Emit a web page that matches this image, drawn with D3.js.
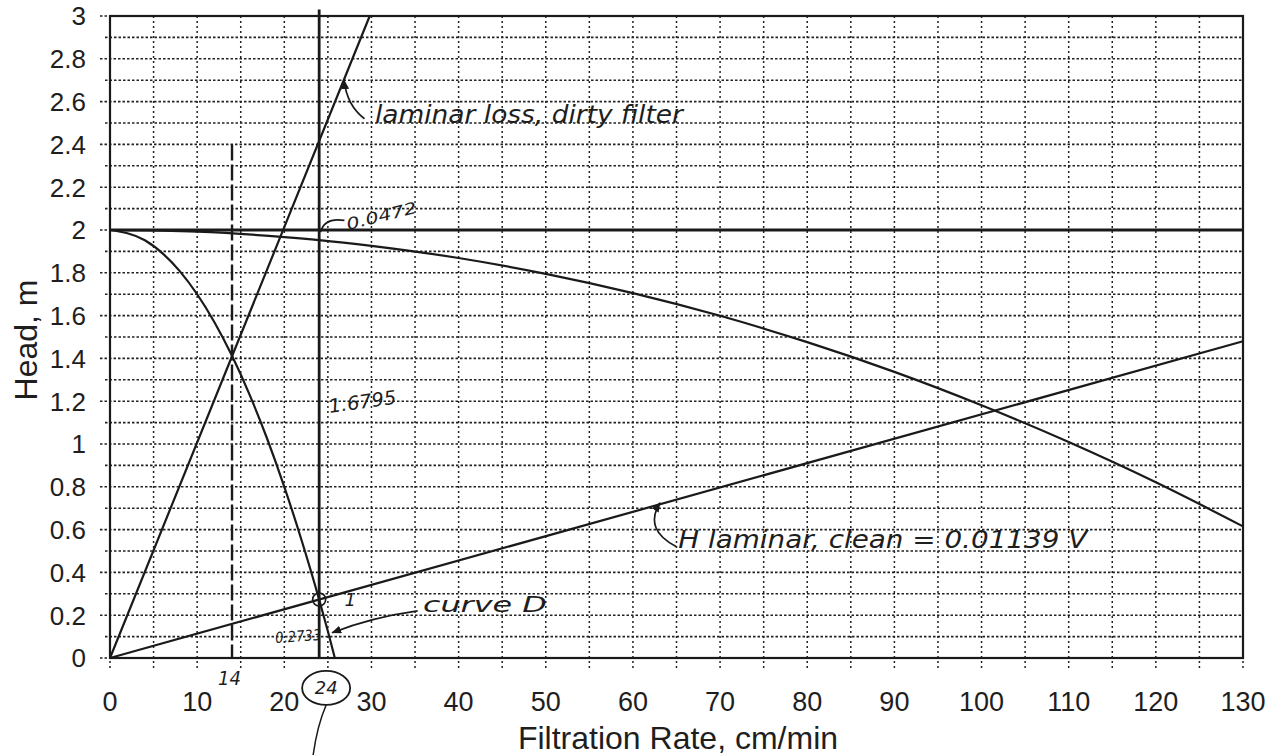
<!DOCTYPE html>
<html>
<head>
<meta charset="utf-8">
<script src="https://cdn.jsdelivr.net/npm/d3@7"></script>
<style>
  body { margin: 0; background: #fff; }
  svg { display: block; }
  text { font-family: "Liberation Sans", Arial, sans-serif; fill: #1e1e1e; }
  .hand { font-family: "DejaVu Sans", sans-serif; font-style: italic; }
</style>
</head>
<body>
<svg id="chart" width="1271" height="755"></svg>
<script>
// valeurs
var xTickValues = [0, 10, 20, 30, 40, 50, 60, 70, 80, 90, 100, 110, 120, 130];
var xTickLabels = ["0", "10", "20", "30", "40", "50", "60", "70", "80", "90", "100", "110", "120", "130"];
var yTickValues = [0, 0.2, 0.4, 0.6, 0.8, 1, 1.2, 1.4, 1.6, 1.8, 2, 2.2, 2.4, 2.6, 2.8, 3];
var yTickLabels = ["0", "0.2", "0.4", "0.6", "0.8", "1", "1.2", "1.4", "1.6", "1.8", "2", "2.2", "2.4", "2.6", "2.8", "3"];

// charge disponible (courbe qui descend lentement)
var availV = [0, 10, 20, 24, 30, 40, 50, 60, 70, 80, 90, 100, 110, 120, 130];
var availH = [2, 1.992, 1.967, 1.953, 1.926, 1.869, 1.795, 1.705, 1.599, 1.476, 1.337, 1.181, 1.009, 0.821, 0.615];

// courbe D
var curveDV = [0, 4, 8, 12, 14, 16, 18, 20, 22, 24, 25, 25.8];
var curveDH = [2, 1.952, 1.808, 1.568, 1.412, 1.232, 1.028, 0.80, 0.548, 0.273, 0.125, 0];

// pertes laminaires
var dirtyV = [0, 14, 29.8];
var dirtyH = [0, 1.41, 3];
var cleanV = [0, 130];
var cleanH = [0, 1.48];

// niveau constant
var levelV = [0, 130];
var levelH = [2, 2];

var designRate = 24;
var crossRate = 14;

var svg = d3.select("#chart");

var x = d3.scaleLinear().domain([0, 130]).range([110, 1243]);
var y = d3.scaleLinear().domain([0, 3]).range([658, 16]);

var ink = "#1a1a1a";

// fleches
var defs = svg.append("defs");
defs.append("marker")
  .attr("id", "head")
  .attr("viewBox", "0 0 10 8")
  .attr("refX", 9).attr("refY", 4)
  .attr("markerWidth", 10).attr("markerHeight", 8)
  .attr("markerUnits", "userSpaceOnUse")
  .attr("orient", "auto")
  .append("path").attr("d", "M0,0 L10,4 L0,8 z").attr("fill", ink);

// grille pointillee
var g = svg.append("g");
g.selectAll(".vgrid")
  .data(d3.range(0, 131, 5))
  .enter().append("line")
    .attr("x1", function(d) { return x(d); })
    .attr("x2", function(d) { return x(d); })
    .attr("y1", y(3))
    .attr("y2", y(0) + 11)
    .attr("stroke", "#222")
    .attr("stroke-width", 1.5)
    .attr("stroke-dasharray", "2,3");

g.selectAll(".hgrid")
  .data(d3.range(0, 31, 1))
  .enter().append("line")
    .attr("x1", function(d) { return d % 2 ? x(0) - 5 : x(0) - 10; })
    .attr("x2", x(130))
    .attr("y1", function(d) { return y(d / 10); })
    .attr("y2", function(d) { return y(d / 10); })
    .attr("stroke", "#222")
    .attr("stroke-width", 1.6)
    .attr("stroke-dasharray", "2.5,2");

// cadre
g.append("rect")
  .attr("x", x(0)).attr("y", y(3))
  .attr("width", x(130) - x(0)).attr("height", y(0) - y(3))
  .attr("fill", "none").attr("stroke", ink).attr("stroke-width", 2.2);

// etiquettes des axes
svg.selectAll(".ylab")
  .data(yTickValues)
  .enter().append("text")
    .attr("x", 86)
    .attr("y", function(d) { return y(d); })
    .attr("dy", "0.36em")
    .attr("text-anchor", "end")
    .style("font-size", "26px")
    .text(function(d, i) { return yTickLabels[i]; });

svg.selectAll(".xlab")
  .data(xTickValues)
  .enter().append("text")
    .attr("x", function(d) { return x(d); })
    .attr("y", 711)
    .attr("text-anchor", "middle")
    .style("font-size", "27px")
    .text(function(d, i) { return xTickLabels[i]; });

svg.append("text")
  .attr("x", 678).attr("y", 749)
  .attr("text-anchor", "middle")
  .style("font-size", "32px")
  .text("Filtration Rate, cm/min");

svg.append("text")
  .attr("transform", "translate(37,340) rotate(-90)")
  .attr("text-anchor", "middle")
  .style("font-size", "32px")
  .text("Head, m");

// courbes
function drawSeries(vs, hs, width, curve) {
  var pts = vs.map(function(v, i) { return [v, hs[i]]; });
  var line = d3.line()
    .x(function(d) { return x(d[0]); })
    .y(function(d) { return y(d[1]); })
    .curve(curve || d3.curveLinear);
  svg.append("path")
    .datum(pts)
    .attr("d", line)
    .attr("fill", "none")
    .attr("stroke", ink)
    .attr("stroke-width", width);
}

drawSeries(levelV, levelH, 2.8);
drawSeries(availV, availH, 2.2, d3.curveMonotoneX);
drawSeries(curveDV, curveDH, 2.2, d3.curveMonotoneX);
drawSeries(dirtyV, dirtyH, 2.2);
drawSeries(cleanV, cleanH, 2.2);

// verticales de lecture
svg.append("line")
  .attr("x1", x(designRate)).attr("x2", x(designRate))
  .attr("y1", y(3.03)).attr("y2", y(0))
  .attr("stroke", ink).attr("stroke-width", 2.8);

svg.append("line")
  .attr("x1", x(crossRate)).attr("x2", x(crossRate))
  .attr("y1", y(2.4)).attr("y2", y(0))
  .attr("stroke", ink).attr("stroke-width", 2.4)
  .attr("stroke-dasharray", "16,4");

// annotations manuscrites
function note(txt, v, h, size, len, rot) {
  var t = svg.append("text")
    .attr("class", "hand")
    .attr("transform", "translate(" + x(v) + "," + y(h) + ") rotate(" + (rot || 0) + ")")
    .style("font-size", size + "px")
    .text(txt);
  if (len) t.attr("textLength", len).attr("lengthAdjust", "spacingAndGlyphs");
  return t;
}

function leader(p0, c, p1, arrow) {
  var p = d3.path();
  p.moveTo(x(p0[0]), y(p0[1]));
  p.quadraticCurveTo(x(c[0]), y(c[1]), x(p1[0]), y(p1[1]));
  var el = svg.append("path")
    .attr("d", p.toString())
    .attr("fill", "none")
    .attr("stroke", ink)
    .attr("stroke-width", 1.7);
  if (arrow) el.attr("marker-end", "url(#head)");
}

note("laminar loss, dirty filter", 30.4, 2.5, 24, 308);
leader([29.2, 2.52], [27.2, 2.58], [26.85, 2.7], true);

note("0.0472", 27.3, 2.0, 16, 72, -14);
leader([26.9, 2.045], [24.6, 2.06], [24.15, 1.99], false);

note("1.6795", 25.2, 1.145, 19, 68, -8);

note("H laminar, clean = 0.01139 V", 65.2, 0.513, 24, 409);
leader([65.0, 0.52], [61.2, 0.6], [63.1, 0.725], true);

note("curve D", 35.9, 0.215, 22, 124);
leader([35.3, 0.22], [30, 0.19], [25.5, 0.118], true);

svg.append("circle")
  .attr("cx", x(designRate)).attr("cy", y(0.2733))
  .attr("r", 6.5)
  .attr("fill", "none").attr("stroke", ink).attr("stroke-width", 1.7);

note("1", 26.9, 0.243, 18);
note("0.2733", 19.0, 0.07, 15, 46, -4);

note("14", 12.4, -0.126, 19, 23);

svg.append("ellipse")
  .attr("cx", x(24.8)).attr("cy", y(-0.14))
  .attr("rx", 24).attr("ry", 17)
  .attr("fill", "none").attr("stroke", ink).attr("stroke-width", 1.8);
svg.append("text")
  .attr("class", "hand")
  .attr("x", x(24.8)).attr("y", y(-0.14) + 6)
  .attr("text-anchor", "middle")
  .style("font-size", "18px")
  .text("24");
svg.append("path")
  .attr("d", "M" + x(24.8) + "," + (y(-0.14) + 17) + " Q" + (x(24.8) - 9) + "," + (y(-0.14) + 38) + " " + (x(24.8) - 13) + ",755")
  .attr("fill", "none").attr("stroke", ink).attr("stroke-width", 1.5);
</script>
</body>
</html>
